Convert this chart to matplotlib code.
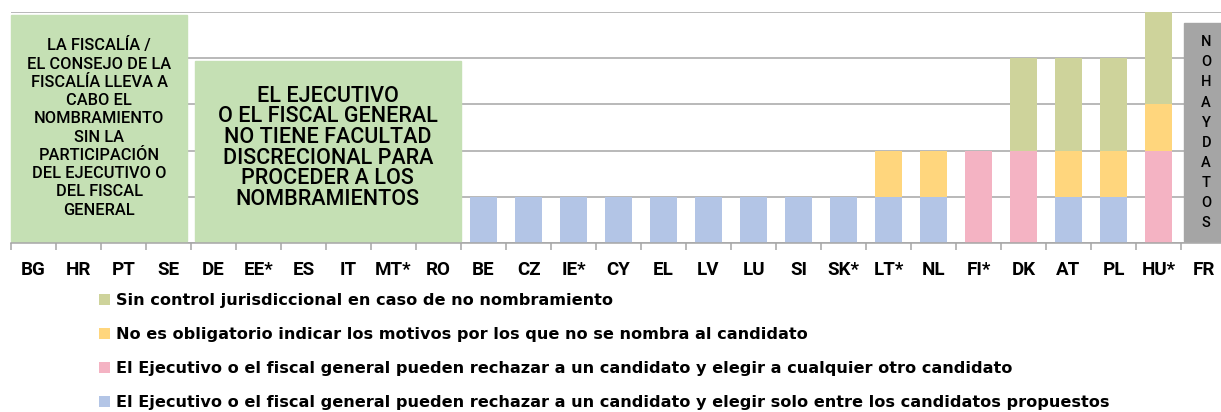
import matplotlib
matplotlib.use('Agg')
import matplotlib.pyplot as plt
from matplotlib.patches import Rectangle
import numpy as np

plt.rcParams['font.family'] = ['Roboto', 'DejaVu Sans']

# Member states, grouped as in the scoreboard
countries = ['BG', 'HR', 'PT', 'SE', 'DE', 'EE*', 'ES', 'IT', 'MT*', 'RO',
             'BE', 'CZ', 'IE*', 'CY', 'EL', 'LV', 'LU', 'SI', 'SK*', 'LT*',
             'NL', 'FI*', 'DK', 'AT', 'PL', 'HU*', 'FR']

# one unit per safeguard that is missing
reject_within = [0]*10 + [1, 1, 1, 1, 1, 1, 1, 1, 1, 1, 1, 0, 0, 1, 1, 0, 0]
reject_any    = [0]*10 + [0, 0, 0, 0, 0, 0, 0, 0, 0, 0, 0, 2, 2, 0, 0, 2, 0]
no_reasons    = [0]*10 + [0, 0, 0, 0, 0, 0, 0, 0, 0, 1, 1, 0, 0, 1, 1, 1, 0]
no_review     = [0]*10 + [0, 0, 0, 0, 0, 0, 0, 0, 0, 0, 0, 0, 2, 2, 2, 2, 0]

labels = ['El Ejecutivo o el fiscal general pueden rechazar a un candidato y elegir solo entre los candidatos propuestos',
          'El Ejecutivo o el fiscal general pueden rechazar a un candidato y elegir a cualquier otro candidato',
          'No es obligatorio indicar los motivos por los que no se nombra al candidato',
          'Sin control jurisdiccional en caso de no nombramiento']
colors = ['#B3C5E6', '#F4B3C3', '#FFD67D', '#CED39B']

box1_text = ('LA FISCALÍA /\nEL CONSEJO DE LA\nFISCALÍA LLEVA A\nCABO EL\nNOMBRAMIENTO\n'
             'SIN LA\nPARTICIPACIÓN\nDEL EJECUTIVO O\nDEL FISCAL\nGENERAL')
box2_text = ('EL EJECUTIVO\nO EL FISCAL GENERAL\nNO TIENE FACULTAD\nDISCRECIONAL PARA\n'
             'PROCEDER A LOS\nNOMBRAMIENTOS')
nodata_text = 'NOHAYDATOS'

fig = plt.figure(figsize=(12.21, 4.12), dpi=100)
ax = fig.add_axes([11/1221, 169/412, 1215/1221, 231/412])

x = np.arange(len(countries))
bottom = np.zeros(len(countries))
bars = []
for vals, c, lab in zip([reject_within, reject_any, no_reasons, no_review], colors, labels):
    b = ax.bar(x, vals, 0.58, bottom=bottom, color=c, label=lab, zorder=2)
    bars.append(b)
    bottom += np.array(vals)

ax.set_xlim(-0.5, len(countries) - 0.5)
ax.set_ylim(0, 5)
ax.set_yticks(range(0, 6))
ax.yaxis.grid(True, color='#A6A6A6', linewidth=1.1, zorder=0)
ax.tick_params(axis='y', left=False, labelleft=False)
for s in ['top', 'right', 'left']:
    ax.spines[s].set_visible(False)
ax.spines['bottom'].set_color('#A6A6A6')
ax.spines['bottom'].set_linewidth(1.1)

ax.set_xticks(x)
ax.set_xticklabels(countries, fontsize=13.5, fontweight='bold')
ax.tick_params(axis='x', length=0, pad=13)
ax.set_xticks(np.arange(-0.5, len(countries)), minor=True)
ax.tick_params(axis='x', which='minor', length=5, color='#A6A6A6', width=1.1)

# panels over the states without discretionary power / without data
ax.add_patch(Rectangle((-0.5, 0.04), 3.91, 4.9, color='#C5E0B4', zorder=3, clip_on=False))
ax.add_patch(Rectangle((3.59, 0.04), 5.91, 3.9, color='#C5E0B4', zorder=3, clip_on=False))
ax.add_patch(Rectangle((25.57, 0.04), 1.2, 4.72, color='#A5A5A5', zorder=3, clip_on=False))

ax.text(1.46, 2.5, box1_text, ha='center', va='center', fontsize=11.8,
        fontweight='medium', linespacing=1.27, zorder=4)
ax.text(6.54, 2.06, box2_text, ha='center', va='center', fontsize=15.5,
        fontweight='medium', linespacing=0.98, zorder=4)
ax.text(26.06, 2.39, '\n'.join(nodata_text), ha='center', va='center', fontsize=10.5,
        fontweight='medium', linespacing=1.55, zorder=4)

handles = bars[::-1]
fig.legend(handles, [h.get_label() for h in handles], loc='upper left',
           bbox_to_anchor=(93/1221, 1 - 287/412), frameon=False,
           prop={'family': 'DejaVu Sans', 'size': 11.6, 'weight': 'bold'},
           handlelength=0.65, handleheight=0.65,
           handletextpad=0.4, labelspacing=1.18, borderaxespad=0)

fig.savefig('out.png', dpi=100)
